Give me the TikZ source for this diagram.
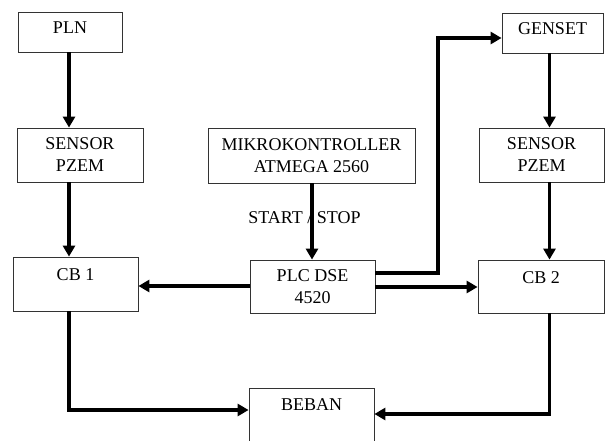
\documentclass[tikz,border=0pt]{standalone}
\usepackage{fontspec}
\setmainfont{Liberation Serif}
\usetikzlibrary{arrows.meta}
\begin{document}
\begin{tikzpicture}[x=1pt,y=-1pt,
  box/.style={draw=black!80, line width=0.8pt, fill=white, inner sep=0pt},
  txt/.style={anchor=north, inner sep=0pt, align=center, font=\fontsize{18}{22}\selectfont},
  conn/.style={line width=3.5pt, -{Triangle[length=11pt,width=12pt]}},
  wire/.style={line width=3.5pt}
]
\useasboundingbox (0,0) rectangle (605,441);
% boxes
\node[box, minimum width=104pt, minimum height=40pt] (pln) at (70,32) {};
\node[box, minimum width=126pt, minimum height=54pt] (sensL) at (80,155) {};
\node[box, minimum width=125pt, minimum height=54pt] (cb1) at (75.5,284) {};
\node[box, minimum width=207pt, minimum height=55pt] (mikro) at (311.5,155.5) {};
\node[box, minimum width=125pt, minimum height=53pt] (plc) at (312.5,286.5) {};
\node[box, minimum width=125pt, minimum height=53pt] (beban) at (311.5,414.5) {};
\node[box, minimum width=101pt, minimum height=40pt] (genset) at (552.5,33) {};
\node[box, minimum width=125pt, minimum height=54pt] (sensR) at (541.5,155) {};
\node[box, minimum width=126pt, minimum height=53pt] (cb2) at (541,286.5) {};
% texts
\node[txt] (plnT) at ([yshift=-10pt]pln.north) {PLN};
\node[txt] (sensLT) at ([yshift=-10pt]sensL.north) {SENSOR\\PZEM};
\node[txt] (cb1T) at ([yshift=-12pt]cb1.north) {CB 1};
\node[txt] (mikroT) at ([yshift=-11pt]mikro.north) {MIKROKONTROLLER\\ATMEGA 2560};
\node[txt] (plcT) at ([yshift=-10pt]plc.north) {PLC DSE\\4520};
\node[txt] (bebanT) at ([yshift=-11pt]beban.north) {BEBAN};
\node[txt] (gensetT) at ([yshift=-10pt]genset.north) {GENSET};
\node[txt] (sensRT) at ([yshift=-10pt]sensR.north) {SENSOR\\PZEM};
\node[txt] (cb2T) at ([yshift=-12pt]cb2.north) {CB 2};
\node[anchor=base, inner sep=0pt, font=\fontsize{18}{22}\selectfont] (ss) at (304.5,223) {START / STOP};
% coordinates
\coordinate (xl) at (69,0);
\coordinate (xm) at (312,0);
\coordinate (xr) at (549.5,0);
\coordinate (g1) at (438,273);
\coordinate (g2) at (438,38);
\coordinate (b1) at (69,410);
\coordinate (b2) at (549.5,414);
% connectors
\draw[conn] (xl |- pln.south) -- (xl |- sensL.north);
\draw[conn] (xl |- sensL.south) -- (xl |- cb1.north);
\draw[conn] (xm |- mikro.south) -- (xm |- plc.north);
\draw[conn] (plc.west |- 0,286) -- (cb1.east |- 0,286);
\draw[conn] (plc.east |- 0,287) -- (cb2.west |- 0,287);
\draw[conn] (plc.east |- g1) -- (g1) -- (g2) -- (genset.west |- g2);
\draw[conn] (xr |- genset.south) -- (xr |- sensR.north);
\draw[conn] (xr |- sensR.south) -- (xr |- cb2.north);
\draw[conn] (xl |- cb1.south) -- (b1) -- (beban.west |- b1);
\draw[conn] (xr |- cb2.south) -- (b2) -- (beban.east |- b2);
\end{tikzpicture}
\end{document}
